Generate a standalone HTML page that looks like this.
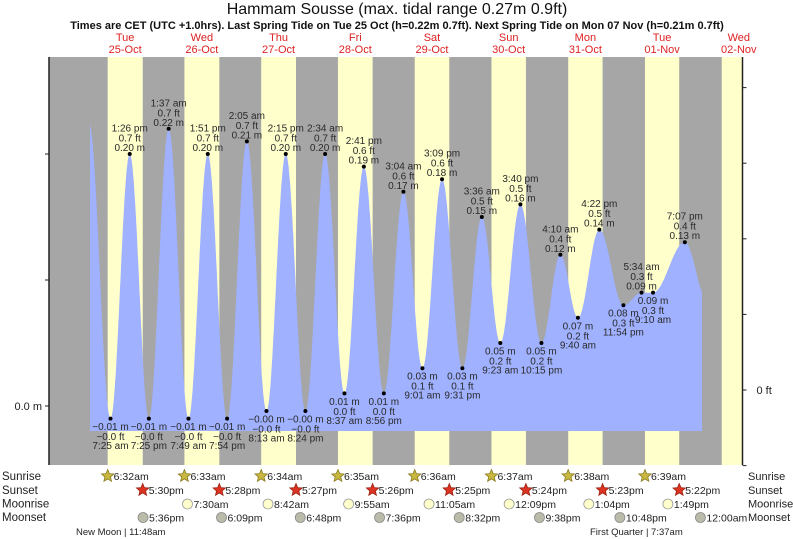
<!DOCTYPE html>
<html><head><meta charset="utf-8"><style>
body{margin:0;background:#fff;}
svg{display:block;font-family:"Liberation Sans",sans-serif;}
</style></head><body>
<svg id="chart" width="793" height="539" viewBox="0 0 793 539" xmlns="http://www.w3.org/2000/svg">
<text x="397" y="14" text-anchor="middle" font-size="16" fill="#111">Hammam Sousse (max. tidal range 0.27m 0.9ft)</text>
<text x="397" y="29" text-anchor="middle" font-size="11" font-weight="bold" fill="#111">Times are CET (UTC +1.0hrs). Last Spring Tide on Tue 25 Oct (h=0.22m 0.7ft). Next Spring Tide on Mon 07 Nov (h=0.21m 0.7ft)</text>
<g id="bands"></g>
<g id="tide"></g>
<g id="labels"></g>
<g id="axes"></g>
<g id="header"></g>
<g id="astro"></g>
</svg>
<script>
const dayNames=["Tue","Wed","Thu","Fri","Sat","Sun","Mon","Tue","Wed"];
const dateLabels=["25-Oct","26-Oct","27-Oct","28-Oct","29-Oct","30-Oct","31-Oct","01-Nov","02-Nov"];
const sunrise=["6:32am","6:33am","6:34am","6:35am","6:36am","6:37am","6:38am","6:39am","6:40am"];
const sunset=["5:30pm","5:28pm","5:27pm","5:26pm","5:25pm","5:24pm","5:23pm","5:22pm"];
const moonriseDay=[1,2,3,4,5,6,7];
const moonrise=["7:30am","8:42am","9:55am","11:05am","12:09pm","1:04pm","1:49pm"];
const moonsetDay=[0,1,2,3,4,5,6,8];
const moonset=["5:36pm","6:09pm","6:48pm","7:36pm","8:32pm","9:38pm","10:48pm","12:00am"];
const tideDay=[0,0,0,0,1,1,1,1,2,2,2,2,3,3,3,3,4,4,4,4,5,5,5,5,6,6,6,6,7,7,7,8];
const tideClock=["0:40 am","7:25 am","1:26 pm","7:25 pm","1:37 am","7:49 am","1:51 pm","7:54 pm","2:05 am","8:13 am","2:15 pm","8:24 pm","2:34 am","8:37 am","2:41 pm","8:56 pm","3:04 am","9:01 am","3:09 pm","9:31 pm","3:36 am","9:23 am","3:40 pm","10:15 pm","4:10 am","9:40 am","4:22 pm","11:54 pm","5:34 am","9:10 am","7:07 pm","2:00 am"];
const tideHeight=[0.225,-0.01,0.20,-0.01,0.22,-0.01,0.20,-0.01,0.21,-0.004,0.20,-0.004,0.20,0.01,0.19,0.01,0.17,0.03,0.18,0.03,0.15,0.05,0.16,0.05,0.12,0.07,0.14,0.08,0.09,0.09,0.13,0.085];
const tideShown=[0,1,1,1,1,1,1,1,1,1,1,1,1,1,1,1,1,1,1,1,1,1,1,1,1,1,1,1,1,1,1,0];

const NS="http://www.w3.org/2000/svg";
const X0=86.8, PXH=3.196, PL=49, PR=742.5, PT=57, PB=465, Y0=406, PXM=1260;
const xT=t=>X0+t*PXH;
const yH=h=>Y0-h*PXM;
function clk(s){const m=s.match(/(\d+):(\d+)\s*(am|pm)/);let h=+m[1]%12;if(m[3]=="pm")h+=12;return h+ +m[2]/60;}
function mk(tag,attrs,parent){const e=document.createElementNS(NS,tag);for(const k in attrs)e.setAttribute(k,attrs[k]);parent.appendChild(e);return e;}
function txt(s,attrs,parent){const e=mk("text",attrs,parent);e.textContent=s;return e;}

const bands=document.getElementById("bands");
let r=mk("rect",{x:PL,y:PT,width:PR-PL,height:PB-PT,fill:"#a6a6a6"},bands);


for(let d=0;d<sunrise.length;d++){
  const a=xT(d*24+clk(sunrise[d]));
  const b=d<sunset.length?xT(d*24+clk(sunset[d])):PR;
  const e=mk("rect",{x:a,y:PT,width:Math.min(b,PR)-a,height:PB-PT,fill:"#ffffcc"},bands);
  
  
}
const T=tideDay.map((d,i)=>d*24+clk(tideClock[i]));
function hAt(t){for(let i=0;i<T.length-1;i++){if(t>=T[i]&&t<=T[i+1]){const f=(t-T[i])/(T[i+1]-T[i]);return tideHeight[i+1]+(tideHeight[i]-tideHeight[i+1])*(1+Math.cos(Math.PI*f))/2;}}return tideHeight[0];}
const tStart=1.0,tEnd=192.5,FB=431;
let p="M"+xT(tStart).toFixed(1)+","+FB;
for(let t=tStart;t<=tEnd+1e-6;t+=0.1){p+=" L"+xT(t).toFixed(1)+","+yH(hAt(t)).toFixed(1);}
p+=" L"+xT(tEnd).toFixed(1)+","+FB+" Z";
const tide=document.getElementById("tide");
const area=mk("path",{d:p,fill:"#9fb1ff"},tide);


const lab=document.getElementById("labels");
for(let i=0;i<T.length;i++){
  if(!tideShown[i])continue;
  const x=xT(T[i]),y=yH(tideHeight[i]);
  const high=i%2==0;
  const g=mk("g",{},lab);
  
  
  mk("circle",{cx:x,cy:y,r:2,fill:"#000"},g);
  const m=tideHeight[i].toFixed(2).replace("-","\u2212")+" m";
  const ft=(tideHeight[i]*3.2808).toFixed(1).replace("-","\u2212")+" ft";
  const a={"text-anchor":"middle","font-size":"10",fill:"#2a2a2a"};
  if(high){
    txt(tideClock[i],Object.assign({x:x,y:y-22.5},a),g);
    txt(ft,Object.assign({x:x,y:y-12.5},a),g);
    txt(m,Object.assign({x:x,y:y-3},a),g);
  }else{
    txt(m,Object.assign({x:x,y:y+11.5},a),g);
    txt(ft,Object.assign({x:x,y:y+21.5},a),g);
    txt(tideClock[i],Object.assign({x:x,y:y+30.5},a),g);
  }
}
const ax=document.getElementById("axes");
mk("line",{x1:PL,y1:PT,x2:PL,y2:PB,stroke:"#222","stroke-width":1.5},ax);
mk("line",{x1:PR,y1:PT,x2:PR,y2:PB,stroke:"#222","stroke-width":1.5},ax);
[0,0.1,0.2].forEach(v=>{const e=mk("line",{x1:PL-4,y1:yH(v),x2:PL,y2:yH(v),stroke:"#222"},ax);});
txt("0.0 m",{x:PL-7,y:Y0+4,"text-anchor":"end","font-size":"11",fill:"#222"},ax);
for(let k=-1;k<=4;k++){const y=390-k*75.6;const e=mk("line",{x1:PR,y1:y,x2:PR+4,y2:y,stroke:"#222"},ax);}
txt("0 ft",{x:PR+14,y:394,"font-size":"11",fill:"#222"},ax);
const hd=document.getElementById("header");
for(let d=0;d<dayNames.length;d++){
  const x=xT(d*24+12);
  const e=txt(dayNames[d],{x:x,y:41,"text-anchor":"middle","font-size":"11",fill:"#dd2222"},hd);
  
  const f=txt(dateLabels[d],{x:x,y:53,"text-anchor":"middle","font-size":"11",fill:"#dd2222"},hd);
  
}
const as=document.getElementById("astro");
function star(cx,cy,R,fill,stroke,parent){let s="";for(let k=0;k<10;k++){const rr=k%2?R*0.45:R;const an=-Math.PI/2+k*Math.PI/5;s+=(cx+rr*Math.cos(an)).toFixed(1)+","+(cy+rr*Math.sin(an)).toFixed(1)+" ";}return mk("polygon",{points:s,fill:fill,stroke:stroke,"stroke-width":0.8},parent);}
const rows=[["Sunrise",480],["Sunset",494],["Moonrise",507.5],["Moonset",521]];
rows.forEach(([n,y])=>{
  const a=txt(n,{x:2,y:y,"font-size":"11.5",fill:"#222"},as);
  const b=txt(n,{x:748,y:y,"font-size":"11",fill:"#222"},as);
});
for(let d=0;d<8;d++){
  const x=xT(d*24+clk(sunrise[d]));
  const g=mk("g",{},as);
  star(x,476,6.5,"#c8b840","#8a7a20",g);txt(sunrise[d],{x:x+6,y:480,"font-size":"10.5",fill:"#222"},g);
}
for(let d=0;d<sunset.length;d++){
  const x=xT(d*24+clk(sunset[d]));
  const g=mk("g",{},as);
  star(x,490,6.5,"#dd3322","#992211",g);txt(sunset[d],{x:x+6,y:494,"font-size":"10.5",fill:"#222"},g);
}
for(let i=0;i<moonrise.length;i++){
  const x=xT(moonriseDay[i]*24+clk(moonrise[i]));
  const g=mk("g",{},as);
  mk("circle",{cx:x,cy:504,r:5,fill:"#ffffcc",stroke:"#999","stroke-width":0.8},g);txt(moonrise[i],{x:x+6,y:508,"font-size":"10.5",fill:"#222"},g);
}
for(let i=0;i<moonset.length;i++){
  const x=xT(moonsetDay[i]*24+clk(moonset[i]));
  const g=mk("g",{},as);
  mk("circle",{cx:x,cy:517.5,r:5,fill:"#bbbbaa",stroke:"#888","stroke-width":0.8},g);txt(moonset[i],{x:x+6,y:521.5,"font-size":"10.5",fill:"#222"},g);
}
const n1=txt("New Moon | 11:48am",{x:76,y:535,"font-size":"9.5",fill:"#222"},as);
const n2=txt("First Quarter | 7:37am",{x:590,y:535,"font-size":"9.5",fill:"#222"},as);
</script>
</body></html>
